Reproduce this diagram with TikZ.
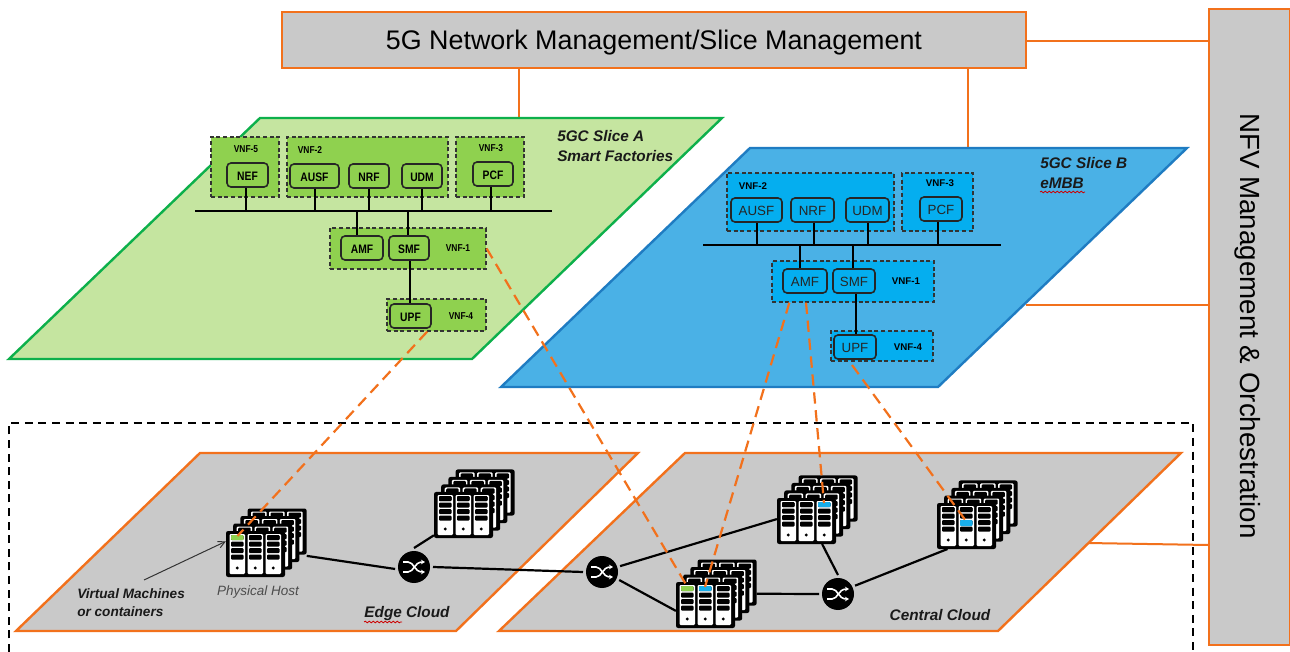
\documentclass[tikz,border=0pt]{standalone}
\usepackage{fontspec}
\setmainfont{Liberation Sans}
\newfontfamily\narrowfont[FakeStretch=0.84]{Liberation Sans}
\usetikzlibrary{arrows.meta,decorations.pathmorphing,calc}
\definecolor{mgray}{HTML}{C9C9C9}
\definecolor{morange}{HTML}{F2711C}
\definecolor{agreen}{HTML}{C5E5A0}
\definecolor{aedge}{HTML}{0DB04B}
\definecolor{afill}{HTML}{8FD14F}
\definecolor{bblue}{HTML}{4AB1E6}
\definecolor{bedge}{HTML}{1F7CC2}
\definecolor{bfill}{HTML}{05AEEF}
\definecolor{hostblue}{HTML}{19AEEA}
\definecolor{darktxt}{HTML}{1A1A1A}
\tikzset{
  x=0.75pt,y=-0.75pt,
  px/.style={line width=#1*0.75pt},
  mgmtbox/.style={draw=morange,fill=mgray,px=2,inner sep=0,rectangle},
  olink/.style={draw=morange,px=2},
  plane/.style={px=2.4,line join=miter},
  dashlink/.style={draw=morange,px=2.2,dash pattern=on 8.5pt off 5pt},
  groupbox/.style={draw=black!80,px=1.3,densely dashed,inner sep=0,rectangle},
  fnbox/.style={draw=black!85,px=1.6,rounded corners=3pt,inner sep=0,rectangle,text height=8.6pt,text depth=0pt},
  afn/.style={fnbox,fill=afill,font=\narrowfont\bfseries\fontsize{9.2pt}{10pt}\selectfont},
  bfn/.style={fnbox,fill=bfill,text=black!85,font=\fontsize{10pt}{11pt}\selectfont},
  agroup/.style={groupbox,fill=afill},
  bgroup/.style={groupbox,fill=bfill},
  alabel/.style={inner sep=0,font=\narrowfont\bfseries\fontsize{7.5pt}{8pt}\selectfont},
  blabel/.style={inner sep=0,font=\bfseries\fontsize{7.3pt}{8pt}\selectfont},
  wire/.style={draw=black,px=2},
  netlink/.style={draw=black,px=2.2},
  swnode/.style={circle,fill=black,inner sep=0,minimum size=24pt,outer sep=2.25pt},
  hostarea/.style={rectangle,inner sep=0,outer sep=0},
  caption/.style={inner sep=0,text=darktxt,font=\bfseries\itshape\fontsize{11.5pt}{15.3pt}\selectfont,align=left},
  spell/.style={draw=red!80!black,px=0.8,decorate,decoration={snake,amplitude=0.6pt,segment length=3pt}},
}
% one rack: #1,#2 top-left corner
\newcommand{\rackshell}[2]{%
  \fill[black,rounded corners=1.6pt] (#1,#2) rectangle ++(59,46);
  \foreach \bx in {3.5,21.5,39.5}{
    \fill[white,rounded corners=0.8pt] (#1+\bx,#2+3) rectangle ++(15.5,40);
    \foreach \sy in {4,10.5,17,23.5}{
      \fill[black,rounded corners=0.8pt] (#1+\bx+1.5,#2+\sy) rectangle ++(12.5,5.2);
    }
    \fill[black] (#1+\bx+7.75,#2+37) circle[radius=1.6];
  }
}
% stack: name, x, y of the front rack, then colours of the 3 top slots
\newcommand{\hoststack}[6]{%
  \rackshell{#2+21.6}{#3-22.5}
  \rackshell{#2+14.4}{#3-15}
  \rackshell{#2+7.2}{#3-7.5}
  \rackshell{#2}{#3}
  \node[hostarea,minimum width=60.6pt,minimum height=51.4pt] (#1) at (#2+40.3,#3+11.75) {};
  \fill[#4,rounded corners=0.8pt] (#2+5,#3+4) rectangle ++(12.5,5.2);
  \fill[#5,rounded corners=0.8pt] (#2+23,#3+4) rectangle ++(12.5,5.2);
  \fill[#6,rounded corners=0.8pt] (#2+41,#3+4) rectangle ++(12.5,5.2);
  \coordinate (#1-a) at (#2+11.5,#3+5);
  \coordinate (#1-b) at (#2+29,#3+5);
  \coordinate (#1-c) at (#2+47,#3+5);
}
\newcommand{\switchicon}[3]{%
  \node[swnode] (#1) at (#2,#3) {};
  \begin{scope}[shift={(#2,#3)}]
    \draw[white,px=1.6,-{Stealth[length=3pt,width=3.4pt]}] (-11,-5) -- (-6,-5) .. controls (0,-5) and (0,5) .. (11,5);
    \draw[white,px=1.6,-{Stealth[length=3pt,width=3.4pt]}] (-11,5) -- (-6,5) .. controls (0,5) and (0,-5) .. (11,-5);
  \end{scope}
}
\begin{document}
\begin{tikzpicture}
\useasboundingbox (0,0) rectangle (1290,652);
\fill[white] (0,0) rectangle (1290,652);

% management boxes
\node[mgmtbox,minimum width=558pt,minimum height=42pt,text depth=0pt,font=\fontsize{20.15pt}{22pt}\selectfont] (top) at (654,40) {5G Network Management/Slice Management};
\node[mgmtbox,minimum width=60.75pt,minimum height=477pt] (nfv) at (1249.5,327) {};
\node[rotate=-90,inner sep=0,font=\fontsize{20.8pt}{22pt}\selectfont] (nfvt) at (1248,326) {NFV Management \& Orchestration};

% plane corners
\coordinate (sa) at (519,118);
\coordinate (sb) at (968,148);
\coordinate (sbr) at (1026,305);
\coordinate (ccr) at (1087,543);
\draw[olink] (top.east |- 0,41) -- (nfv.west |- 0,41);
\draw[olink] (top.south -| sa) -- (sa);
\draw[olink] (top.south -| sb) -- (sb);
\draw[olink] (sbr) -- (nfv.west |- sbr);
\draw[olink] (ccr) -- ($(nfv.west |- ccr)+(0,2)$);

% dashed infrastructure frame
\draw[black,px=1.6,dash pattern=on 6pt off 4.2pt] (9,652) -- (9,423) -- (1193,423) -- (1193,652);

% planes
\draw[plane,draw=aedge,fill=agreen] (260,118) -- (722,118) -- (472,359) -- (9,359) -- cycle;
\draw[plane,draw=bedge,fill=bblue] (750,148) -- (1187,148) -- (938,387) -- (501,387) -- cycle;
\draw[plane,draw=morange,fill=mgray] (200,453) -- (638,453) -- (456,631) -- (16,631) -- cycle;
\draw[plane,draw=morange,fill=mgray] (685,453) -- (1181,453) -- (998,631) -- (499,631) -- cycle;

% Slice A
\node[agroup,minimum width=51pt,minimum height=45pt] (a5) at (245,167) {};
\node[agroup,minimum width=120.75pt,minimum height=45pt] (a2) at (367.5,167) {};
\node[agroup,minimum width=51pt,minimum height=45pt] (a3) at (490,167) {};
\node[agroup,minimum width=117pt,minimum height=30.75pt] (a1) at (408,248.5) {};
\node[agroup,minimum width=74.25pt,minimum height=24pt] (a4) at (436.5,315) {};
\node[alabel] (a5l) at (246,149) {VNF-5};
\node[alabel] (a2l) at (310,150) {VNF-2};
\node[alabel] (a3l) at (491,148.5) {VNF-3};
\node[alabel] (a1l) at (458,248) {VNF-1};
\node[alabel] (a4l) at (461,316) {VNF-4};
\node[afn,minimum width=30.75pt,minimum height=18pt] (nef) at (247.5,175) {NEF};
\node[afn,minimum width=36.75pt,minimum height=18pt] (ausf) at (314.5,176) {AUSF};
\node[afn,minimum width=30pt,minimum height=18pt] (nrfa) at (369,176) {NRF};
\node[afn,minimum width=30pt,minimum height=18pt] (udma) at (422,176) {UDM};
\node[afn,minimum width=30pt,minimum height=18pt] (pcfa) at (493,174) {PCF};
\node[afn,minimum width=31.5pt,minimum height=18pt] (amfa) at (362,248) {AMF};
\node[afn,minimum width=30pt,minimum height=18pt] (smfa) at (409,248) {SMF};
\node[afn,minimum width=30.75pt,minimum height=18pt] (upfa) at (410.5,316) {UPF};
\coordinate (busal) at (195,211);
\coordinate (busar) at (552,211);
\draw[wire] (busal) -- (busar);
\draw[wire] ([xshift=-1.1pt]nef.south) -- ([xshift=-1.1pt]nef.south |- busal);
\draw[wire] (ausf.south) -- (ausf.south |- busal);
\draw[wire] (nrfa.south) -- (nrfa.south |- busal);
\draw[wire] (udma.south) -- (udma.south |- busal);
\draw[wire] ([xshift=-1.5pt]pcfa.south) -- ([xshift=-1.5pt]pcfa.south |- busal);
\draw[wire] ([xshift=-3.75pt]amfa.north) -- ([xshift=-3.75pt]amfa.north |- busal);
\draw[wire] ([xshift=-.75pt]smfa.north) -- ([xshift=-.75pt]smfa.north |- busal);
\draw[wire] ([xshift=.75pt]smfa.south) -- ([xshift=-.375pt]upfa.north);
\node[caption,anchor=north west] (cap a) at (557,130) {5GC Slice A\\Smart Factories};

% Slice B
\node[bgroup,minimum width=125.25pt,minimum height=43.5pt] (b2) at (810.5,202) {};
\node[bgroup,minimum width=53.25pt,minimum height=43.5pt] (b3) at (937.5,202) {};
\node[bgroup,minimum width=121.5pt,minimum height=30.75pt] (b1) at (853,281.5) {};
\node[bgroup,minimum width=76.5pt,minimum height=22.5pt] (b4) at (882,346) {};
\node[blabel] (b2l) at (753,186) {VNF-2};
\node[blabel] (b3l) at (940,183) {VNF-3};
\node[blabel] (b1l) at (906,281) {VNF-1};
\node[blabel] (b4l) at (908,347) {VNF-4};
\node[bfn,minimum width=38.25pt,minimum height=18pt] (ausfb) at (756.5,210) {AUSF};
\node[bfn,minimum width=32.25pt,minimum height=18pt] (nrfb) at (812.5,210) {NRF};
\node[bfn,minimum width=32.25pt,minimum height=18pt] (udmb) at (867.5,210) {UDM};
\node[bfn,minimum width=31.5pt,minimum height=18pt] (pcfb) at (941,209) {PCF};
\node[bfn,minimum width=33pt,minimum height=18pt] (amfb) at (805,281) {AMF};
\node[bfn,minimum width=31.5pt,minimum height=18pt] (smfb) at (854,281) {SMF};
\node[bfn,minimum width=31.5pt,minimum height=18pt] (upfb) at (855,347) {UPF};
\coordinate (busbl) at (703,245);
\coordinate (busbr) at (1001,245);
\draw[wire] (busbl) -- (busbr);
\draw[wire] (ausfb.south) -- (ausfb.south |- busbl);
\draw[wire] ([xshift=1pt]nrfb.south) -- ([xshift=1pt]nrfb.south |- busbl);
\draw[wire] (udmb.south) -- (udmb.south |- busbl);
\draw[wire] ([xshift=-2.25pt]pcfb.south) -- ([xshift=-2.25pt]pcfb.south |- busbl);
\draw[wire] ([xshift=-3.75pt]amfb.north) -- ([xshift=-3.75pt]amfb.north |- busbl);
\draw[wire] ([xshift=-.75pt]smfb.north) -- ([xshift=-.75pt]smfb.north |- busbl);
\draw[wire] ([xshift=1.5pt]smfb.south) -- ([xshift=.75pt]upfb.north);
\node[caption,anchor=north west] (cap b) at (1040,157) {5GC Slice B\\eMBB};
\coordinate (wavyb1) at (1040,192);
\coordinate (wavyb2) at (1085,192);
\draw[spell] (wavyb1) -- (wavyb2);

% switches
\switchicon{swa}{414}{567}
\switchicon{swb}{602}{572}
\switchicon{swc}{838}{594}

% hosts
\hoststack{hb}{777}{498}{black}{black}{hostblue}
\hoststack{hc}{937}{503}{black}{black}{black}
\fill[hostblue,rounded corners=0.8pt] (960,520) rectangle ++(12.5,6.2);
\coordinate (hcmark) at (966,521);
\hoststack{ha}{676}{582}{afill}{hostblue}{black}
\hoststack{hs}{434}{492}{black}{black}{black}
\hoststack{hp}{226}{531}{afill}{black}{black}

% network links
\draw[netlink] (hp.-18) -- (swa.186);
\draw[netlink] (hs.218) -- (swa.north);
\draw[netlink] (swa.east) -- (swb.west);
\draw[netlink] (swb.18) -- (hb.193);
\draw[netlink] (swb.-25) -- (ha.203);
\draw[netlink] (ha.east) -- (swc.west);
\draw[netlink] (hb.-82) -- (swc.north);
\draw[netlink] (swc.26) -- (hc.229);

% dashed mappings
\coordinate (mapb) at (852,365);
\draw[dashlink] ([xshift=-7pt]a4.south) -- (hp-a);
\draw[dashlink] (a1.east) -- (ha-a);
\draw[dashlink] ([xshift=13.5pt]b1.south west) -- (ha-b);
\draw[dashlink] ([xshift=26pt]b1.south west) -- (hb-c);
\draw[dashlink] (mapb) -- (hcmark);

% host captions
\node[inner sep=0,text=black!70,font=\itshape\fontsize{10.1pt}{11pt}\selectfont] (phys) at (258,592) {Physical Host};
\node[caption,anchor=north west,font=\bfseries\itshape\fontsize{10.2pt}{13.6pt}\selectfont] (vm) at (77,588) {Virtual Machines\\or containers};
\coordinate (vmtip) at (144,580);
\draw[black!80,px=1,-{Straight Barb[length=5pt,width=5pt]}] (vmtip) -- (hp.178);
\node[caption,font=\bfseries\itshape\fontsize{11.5pt}{12pt}\selectfont] (edge) at (407,614) {Edge Cloud};
\coordinate (wavye1) at (364,622);
\coordinate (wavye2) at (402,622);
\draw[spell] (wavye1) -- (wavye2);
\node[caption,font=\bfseries\itshape\fontsize{11.5pt}{12pt}\selectfont] (central) at (940,615) {Central Cloud};
\end{tikzpicture}
\end{document}
